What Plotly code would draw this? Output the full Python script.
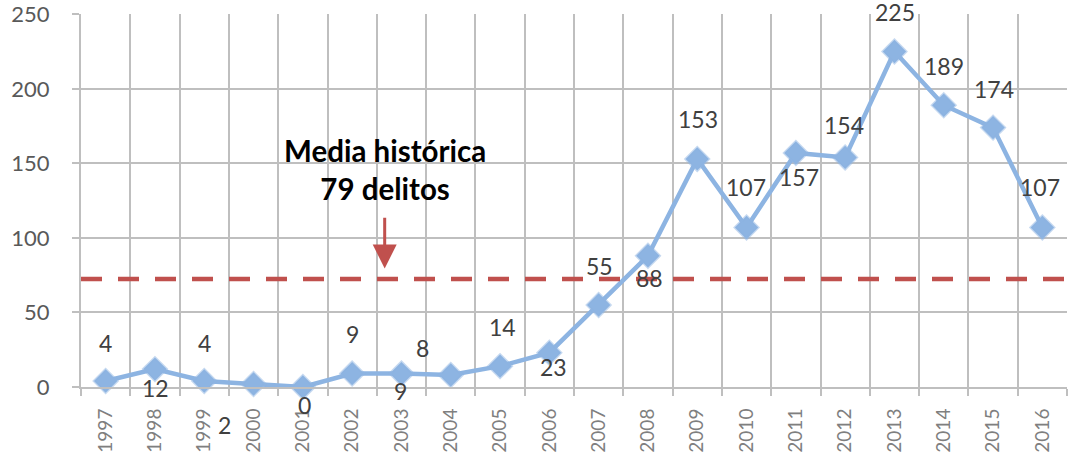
"""Delitos por año 1997-2016 con media histórica — recreación en Plotly."""

import plotly.graph_objects as go

# ------------------------------------------------------------------
# Data
# ------------------------------------------------------------------
years = [str(y) for y in range(1997, 2017)]
delitos = [4, 12, 4, 2, 0, 9, 9, 8, 14, 23, 55, 88, 153, 107, 157, 154, 225, 189, 174, 107]
y_ticks = [0, 50, 100, 150, 200, 250]
media_line = 72.5  # where the dashed "media" line sits in the picture
media_text = "Media histórica<br>79 delitos"

# pixel offsets of each value label relative to its marker (dx, dy; +dy = down)
label_offsets = [
    (0, -38), (1, 19), (0, -38), (-29, 41), (2, 18),
    (0, -40), (-1, 17), (-28, -27), (2, -39), (4, 14),
    (1, -39), (2, 22), (1, -40), (-1, -40), (3, 24),
    (-1, -32), (1, -40), (0, -39), (1, -39), (-2, -40),
]

FONT = "Lato, 'Open Sans', sans-serif"
GRID = "#BFBFBF"
BLUE = "#8DB4E2"
RED = "#C0504D"

x_idx = list(range(len(years)))

fig = go.Figure()

fig.add_trace(
    go.Scatter(
        x=x_idx,
        y=delitos,
        mode="lines+markers",
        line=dict(color=BLUE, width=4.5),
        marker=dict(
            symbol="diamond",
            size=18,
            color=BLUE,
            line=dict(color="rgba(141,180,226,0.5)", width=2.5),
        ),
        cliponaxis=False,
        showlegend=False,
        hoverinfo="skip",
    )
)

# dashed historical-mean line
fig.add_shape(
    type="line",
    xref="paper",
    x0=0,
    x1=1,
    yref="y",
    y0=media_line,
    y1=media_line,
    line=dict(color=RED, width=4.5, dash="21px,16px"),
    layer="above",
)

# value labels
for xi, val, (dx, dy) in zip(x_idx, delitos, label_offsets):
    fig.add_annotation(
        x=xi,
        y=val,
        text=str(val),
        showarrow=False,
        xshift=dx,
        yshift=-dy,
        font=dict(family=FONT, size=23, color="#404040"),
    )

# "Media histórica" note with arrow
fig.add_annotation(
    x=5.66,
    y=79.5,
    ax=5.66,
    ay=114.5,
    axref="x",
    ayref="y",
    text="",
    showarrow=True,
    arrowhead=2,
    arrowsize=1.6,
    arrowwidth=3,
    arrowcolor=RED,
)
fig.add_annotation(
    x=5.66,
    y=146,
    text="<b>" + media_text + "</b>",
    showarrow=False,
    align="center",
    font=dict(family=FONT, size=29.5, color="#000000"),
)

fig.update_layout(
    width=1078,
    height=453,
    margin=dict(l=81, r=11, t=14, b=66),
    paper_bgcolor="white",
    plot_bgcolor="white",
    font=dict(family=FONT),
)

fig.update_xaxes(
    range=[-0.5, len(years) - 0.5],
    tickmode="array",
    tickvals=x_idx,
    ticktext=years,
    tickangle=-90,
    ticks="",
    showgrid=False,
    showline=True,
    linecolor=GRID,
    linewidth=2,
    tickfont=dict(family=FONT, size=19, color="#7F7F7F"),
    ticklabelstandoff=12,
    automargin=False,
    minor=dict(
        tickmode="linear",
        tick0=-0.5,
        dtick=1,
        showgrid=True,
        gridcolor=GRID,
        gridwidth=2,
        ticks="outside",
        ticklen=7,
        tickwidth=2,
        tickcolor=GRID,
    ),
    zeroline=False,
)

fig.update_yaxes(
    range=[0, 250.2],
    tickmode="array",
    tickvals=y_ticks,
    showgrid=True,
    gridcolor=GRID,
    gridwidth=2,
    showline=True,
    linecolor=GRID,
    linewidth=2,
    ticks="outside",
    ticklen=7,
    tickwidth=2,
    tickcolor=GRID,
    tickfont=dict(family=FONT, size=22, color="#595959"),
    ticklabelstandoff=18,
    automargin=False,
    zeroline=False,
)

# the page body keeps its default 8px margin; drop it so the figure sits at 0,0
fig.write_html(
    "out.html",
    config={"displayModeBar": False},
    post_script="document.body.style.margin = '0'; document.body.style.overflow = 'hidden';",
)
